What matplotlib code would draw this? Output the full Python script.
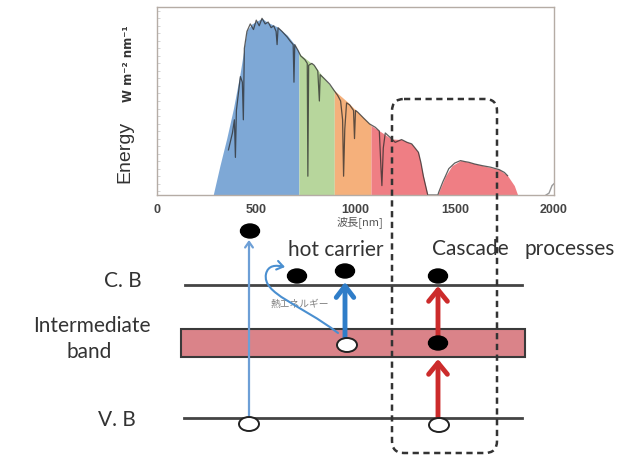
import numpy as np
import matplotlib
matplotlib.use("Agg")
import matplotlib.pyplot as plt
from matplotlib.patches import Ellipse, FancyBboxPatch, Rectangle, FancyArrowPatch
from matplotlib.path import Path

# ---------------- data ----------------
# smooth envelope of the solar spectrum (normalised energy)
env_wl = [283, 317, 351, 385, 419, 453, 478, 529, 554, 605, 656, 690, 715, 724, 792, 842,
          893, 961, 1012, 1071, 1078, 1131, 1181, 1232, 1283, 1317, 1342, 1364, 1415,
          1419, 1453, 1486, 1529, 1571, 1639, 1724, 1766, 1800, 1817]
env_val = [0.0, 0.156, 0.30, 0.46, 0.65, 0.876, 0.91, 0.94, 0.92, 0.895, 0.85, 0.805, 0.76,
           0.745, 0.69, 0.62, 0.556, 0.494, 0.44, 0.378, 0.37, 0.334, 0.298, 0.295, 0.272,
           0.227, 0.10, 0.0, 0.0, 0.014, 0.10, 0.156, 0.183, 0.174, 0.156, 0.135, 0.103,
           0.05, 0.0]

# detailed (dark) trace with absorption dips
trace_wl = [360, 380, 390, 395, 400, 420, 430, 435, 440, 453, 470, 486, 500, 515, 529, 545,
            560, 575, 588, 600, 605, 610, 630, 656, 670, 686, 690, 694, 710, 724, 745, 757,
            760, 764, 780, 792, 810, 818, 822, 842, 870, 893, 910, 925, 935, 940, 946, 955,
            970, 990, 995, 1000, 1012, 1040, 1071, 1100, 1120, 1128, 1133, 1140, 1150, 1181,
            1200, 1232, 1260, 1283, 1300, 1317, 1330, 1342, 1364, 1415, 1419, 1440, 1453,
            1470, 1486, 1500, 1529, 1550, 1571, 1600, 1639, 1680, 1724, 1750, 1766]
trace_val = [0.24, 0.33, 0.40, 0.20, 0.45, 0.63, 0.60, 0.40, 0.78, 0.87, 0.91, 0.88, 0.93,
             0.90, 0.94, 0.91, 0.92, 0.89, 0.90, 0.87, 0.80, 0.89, 0.87, 0.84, 0.82, 0.80,
             0.60, 0.80, 0.77, 0.74, 0.72, 0.70, 0.10, 0.69, 0.70, 0.69, 0.66, 0.50, 0.64,
             0.62, 0.59, 0.555, 0.53, 0.50, 0.40, 0.10, 0.35, 0.49, 0.48, 0.45, 0.30, 0.45,
             0.44, 0.41, 0.378, 0.36, 0.34, 0.15, 0.05, 0.25, 0.33, 0.30, 0.28, 0.295, 0.28,
             0.272, 0.25, 0.227, 0.17, 0.10, 0.0, 0.0, 0.014, 0.07, 0.10, 0.14, 0.156, 0.17,
             0.183, 0.178, 0.174, 0.165, 0.156, 0.148, 0.135, 0.12, 0.103]

tail_wl = [1960, 1975, 1990, 2000]
tail_val = [0.0, 0.01, 0.05, 0.06]

band_edges = [283, 715, 893, 1078, 2000]
band_colors = ["#7ea8d6", "#b7d69c", "#f5b07b", "#ef7e84"]

xticks = [0, 500, 1000, 1500, 2000]
xtick_labels = ["0", "500", "1000", "1500", "2000"]

# ---------------- figure ----------------
fig = plt.figure(figsize=(6.19, 4.56), dpi=100)
W, H = 619, 456
ax = fig.add_axes([157 / W, 1 - 196 / H, 397 / W, 188 / H])
ax.set_xlim(0, 2000)
ax.set_ylim(0, 1)

ew = np.array(env_wl)
ev = np.array(env_val)
for lo, hi, c in zip(band_edges[:-1], band_edges[1:], band_colors):
    m = (ew >= lo) & (ew <= hi)
    ax.fill_between(ew[m], 0, ev[m], color=c, lw=0)

ax.plot(trace_wl, trace_val, color="#2a2a2a", lw=0.9, alpha=0.75)
ax.plot(tail_wl, tail_val, color="#999999", lw=1.0)

for s in ax.spines.values():
    s.set_color("#b5aca5")
    s.set_linewidth(1.0)
ax.set_xticks(xticks)
ax.set_xticklabels(xtick_labels, fontsize=9, fontweight="bold", color="#444444",
                   family="Liberation Sans")
ax.tick_params(axis="x", length=0, pad=6)
ax.set_yticks(np.arange(0.02, 1.0, 0.04))
ax.set_yticklabels([])
ax.tick_params(axis="y", direction="in", length=2, color="#cccccc", width=0.6)

# ---------------- overlay (pixel coordinates) ----------------
ov = fig.add_axes([0, 0, 1, 1])
ov.set_xlim(0, W)
ov.set_ylim(H, 0)
ov.axis("off")
ov.patch.set_alpha(0)

ov.text(125, 152, "Energy", rotation=90, ha="center", va="center", fontsize=14,
        family="Liberation Sans", color="#333333")
ov.text(128, 64, "W m\u207b\u00b2 nm\u207b\u00b9", rotation=90, ha="center", va="center",
        fontsize=8.5, fontweight="bold", family="DejaVu Sans", color="#333333")
ov.text(360, 222, "波長[nm]", ha="center", va="center", fontsize=8, color="#555555",
        family=["Noto Sans CJK JP", "DejaVu Sans"])

# band diagram
ov.add_patch(Rectangle((181, 330), 344, 28, fc="#da8389", ec="#3a3a3a", lw=1.5, zorder=1))
ov.plot([185, 522], [286, 286], color="#444444", lw=2, zorder=2)
ov.plot([184, 522], [419, 419], color="#444444", lw=2, zorder=2)

lab = dict(family="Lato", fontsize=15, color="#333333", ha="center", va="baseline")
ov.text(123, 287, "C. B", **lab)
ov.text(92, 332, "Intermediate", **lab)
ov.text(89, 358, "band", **lab)
ov.text(117, 426, "V. B", **lab)
ov.text(336, 256, "hot carrier", **lab)
ov.text(470, 255, "Cascade", **lab)
ov.text(570, 255, "processes", **lab)
ov.text(300, 304, "熱エネルギー", ha="center", va="center", fontsize=7, color="#808080",
        family=["Noto Sans CJK JP", "DejaVu Sans"])

# arrows
def arrow(x0, y0, x1, y1, color, lw, ms, hl, hw):
    ov.annotate("", xy=(x1, y1), xytext=(x0, y0),
                arrowprops=dict(arrowstyle=f"->,head_length={hl},head_width={hw}",
                                color=color, lw=lw, mutation_scale=ms,
                                shrinkA=0, shrinkB=0), zorder=3)

arrow(249, 419, 249, 241, "#6d9fd6", 1.6, 8, 0.5, 0.35)
arrow(345, 340, 345, 283, "#2f7dc8", 3.5, 15, 0.55, 0.42)
arrow(438, 419, 438, 360, "#cc2b2b", 3.5, 15, 0.55, 0.45)
arrow(438, 348, 438, 287, "#cc2b2b", 3.5, 15, 0.55, 0.45)

verts = [(338, 334), (300, 305), (262, 295), (266, 275), (268, 266), (276, 266), (285, 268)]
codes = [Path.MOVETO, Path.CURVE4, Path.CURVE4, Path.CURVE4, Path.CURVE4, Path.CURVE4,
         Path.CURVE4]
ov.add_patch(FancyArrowPatch(path=Path(verts, codes), arrowstyle="->,head_length=0.5,head_width=0.35",
                             mutation_scale=9, color="#4a8fd0", lw=1.5, zorder=3))

# electrons and holes
for (x, y) in [(250, 232), (297, 277), (345, 272), (438, 277), (438, 344)]:
    ov.add_patch(Ellipse((x, y), 19, 14, fc="black", ec="black", zorder=4))
for (x, y) in [(347, 346), (249, 425), (439, 426)]:
    ov.add_patch(Ellipse((x, y), 20, 14, fc="white", ec="#222222", lw=1.4, zorder=4))

# dashed rounded box
ov.add_patch(FancyBboxPatch((392, 100), 105, 354, boxstyle="round,pad=0,rounding_size=12",
                            fill=False, ec="#333333", lw=1.8, ls=(0, (2.5, 1.8)), zorder=5))

fig.savefig("out.png", dpi=100)
